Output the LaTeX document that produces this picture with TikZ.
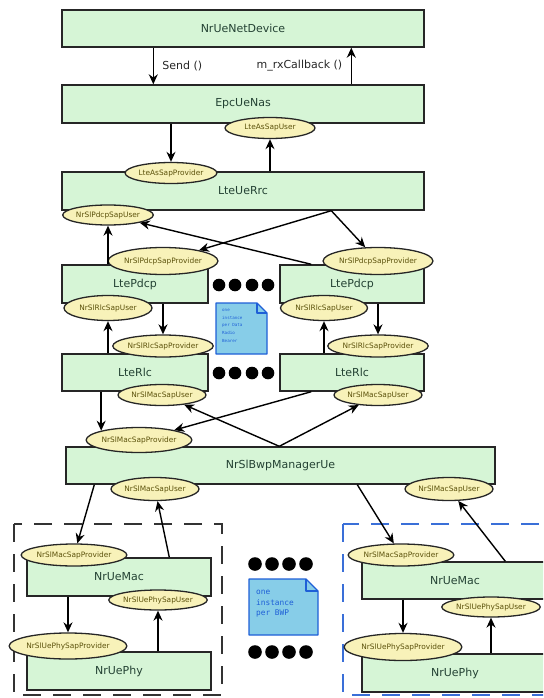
\documentclass[tikz,border=0pt]{standalone}
\usepackage{fontspec}
\setmainfont{DejaVu Sans}
\setmonofont{DejaVu Sans Mono}
\usetikzlibrary{shapes.geometric,arrows.meta}

\definecolor{boxfill}{RGB}{214,245,214}
\definecolor{boxtext}{RGB}{36,66,52}
\definecolor{sapfill}{RGB}{248,242,185}
\definecolor{saptext}{RGB}{92,82,12}
\definecolor{notefill}{RGB}{135,205,232}
\definecolor{noteblue}{RGB}{30,95,215}
\definecolor{bwpblue}{RGB}{58,111,216}

\tikzset{
  box/.style={draw=black!85,line width=1.4pt,fill=boxfill,text=boxtext,
    font=\fontsize{11}{13}\selectfont,inner sep=0pt},
  sap/.style={ellipse,draw=black!85,line width=1.3pt,fill=sapfill,text=saptext,
    font=\fontsize{7.4}{8}\selectfont,inner sep=0pt},
  arr/.style={line width=1.4pt,-{Stealth[length=10pt,width=9pt]}},
  notebox/.style={draw=noteblue,line width=1.3pt,fill=notefill,line join=round},
  group/.style={line width=1.5pt,dash pattern=on 18pt off 12pt},
}

\begin{document}
\begin{tikzpicture}[x=1pt,y=-1pt]
\useasboundingbox (0,0) rectangle (543,698);
\clip (0,0) rectangle (543,698);
  % Dashed groups for each BWP
  \draw[group,black!80] (14,524) rectangle (222,695);
  \draw[group,bwpblue] (343,524) rectangle (570,695);
  % Layer boxes
  \node[box,minimum width=362,minimum height=37] (dev) at (243,28.5) {NrUeNetDevice};
  \node[box,minimum width=362,minimum height=38] (nas) at (243,104) {EpcUeNas};
  \node[box,minimum width=362,minimum height=38] (rrc) at (243,191) {LteUeRrc};
  \node[box,minimum width=146,minimum height=38] (pdcpL) at (135,284) {LtePdcp};
  \node[box,minimum width=144,minimum height=38] (pdcpR) at (352,284) {LtePdcp};
  \node[box,minimum width=146,minimum height=37] (rlcL) at (135,372.5) {LteRlc};
  \node[box,minimum width=144,minimum height=37] (rlcR) at (352,372.5) {LteRlc};
  \node[box,minimum width=429,minimum height=37] (bwp) at (280.5,465.5) {NrSlBwpManagerUe};
  \node[box,minimum width=184,minimum height=38] (macL) at (119,577) {NrUeMac};
  \node[box,minimum width=184,minimum height=38] (phyL) at (119,671) {NrUePhy};
  \node[box,minimum width=186,minimum height=37] (macR) at (455,580.5) {NrUeMac};
  \node[box,minimum width=186,minimum height=38] (phyR) at (455,673) {NrUePhy};
  % SAP ellipses
  \node[sap,minimum width=90,minimum height=21] (asu) at (270,128) {LteAsSapUser};
  \node[sap,minimum width=89,minimum height=21] (asp) at (171,173) {LteAsSapProvider};
  \node[sap,minimum width=88,minimum height=20] (pduL) at (108,215) {NrSlPdcpSapUser};
  \node[sap,minimum width=90,minimum height=27] (ppL) at (163,261) {NrSlPdcpSapProvider};
  \node[sap,minimum width=92,minimum height=27] (ppR) at (378,261) {NrSlPdcpSapProvider};
  \node[sap,minimum width=88,minimum height=25] (ruL) at (108,308) {NrSlRlcSapUser};
  \node[sap,minimum width=87,minimum height=25] (ruR) at (324,308) {NrSlRlcSapUser};
  \node[sap,minimum width=86,minimum height=22] (rpL) at (163,346) {NrSlRlcSapProvider};
  \node[sap,minimum width=88,minimum height=22] (rpR) at (378,346) {NrSlRlcSapProvider};
  \node[sap,minimum width=88,minimum height=21] (muL) at (162,395) {NrSlMacSapUser};
  \node[sap,minimum width=88,minimum height=21] (muR) at (378,395) {NrSlMacSapUser};
  \node[sap,minimum width=87,minimum height=25] (mp) at (139,440) {NrSlMacSapProvider};
  \node[sap,minimum width=88,minimum height=23] (bmuL) at (155,489) {NrSlMacSapUser};
  \node[sap,minimum width=88,minimum height=23] (bmuR) at (449,489) {NrSlMacSapUser};
  \node[sap,minimum width=90,minimum height=22] (mpL) at (74,555) {NrSlMacSapProvider};
  \node[sap,minimum width=88,minimum height=22] (mpR) at (401,555) {NrSlMacSapProvider};
  \node[sap,minimum width=90,minimum height=20] (puL) at (158,600) {NrSlUePhySapUser};
  \node[sap,minimum width=89,minimum height=20] (puR) at (491,607) {NrSlUePhySapUser};
  \node[sap,minimum width=99,minimum height=26] (ppyL) at (68,646) {NrSlUePhySapProvider};
  \node[sap,minimum width=95,minimum height=27] (ppyR) at (403,647) {NrSlUePhySapProvider};
  % Device <-> NAS
  \draw[arr] ([xshift=92pt]dev.south west) -- node[midway,right=5pt,text=black!85,font=\fontsize{11}{13}\selectfont] {Send ()} ([xshift=92pt]nas.north west);
  \draw[arr] ([xshift=290pt]nas.north west) -- node[midway,left=5pt,text=black!85,font=\fontsize{11}{13}\selectfont] {m\_rxCallback ()} ([xshift=290pt]dev.south west);
  % NAS <-> RRC
  \draw[arr] (asp |- nas.south) -- (asp.north);
  \draw[arr] (asu |- rrc.north) -- (asu.south);
  % RRC <-> PDCP
  \draw[arr] ([xshift=270pt]rrc.south west) -- (ppL);
  \draw[arr] ([xshift=270pt]rrc.south west) -- (ppR);
  \draw[arr] (pduL |- pdcpL.north) -- (pduL.south);
  \draw[arr] ([xshift=32pt]pdcpR.north west) -- (pduL);
  % PDCP <-> RLC
  \draw[arr] (rpL |- pdcpL.south) -- (rpL.north);
  \draw[arr] (rpR |- pdcpR.south) -- (rpR.north);
  \draw[arr] (ruL |- rlcL.north) -- (ruL.south);
  \draw[arr] (ruR |- rlcR.north) -- (ruR.south);
  % RLC <-> BWP manager
  \draw[arr] (rlcL.south -| mp.north west) -- (mp.north west);
  \draw[arr] ([xshift=32pt]rlcR.south west) -- (mp);
  \draw[arr] ([xshift=214pt]bwp.north west) -- (muL);
  \draw[arr] ([xshift=214pt]bwp.north west) -- (muR);
  % BWP manager <-> MAC
  \draw[arr] ([xshift=29pt]bwp.south west) -- (mpL);
  \draw[arr] ([xshift=143pt]macL.north west) -- (bmuL);
  \draw[arr] ([xshift=292pt]bwp.south west) -- (mpR);
  \draw[arr] ([xshift=144pt]macR.north west) -- (bmuR);
  % MAC <-> PHY
  \draw[arr] (ppyL |- macL.south) -- (ppyL.north);
  \draw[arr] (puL |- phyL.north) -- (puL.south);
  \draw[arr] (ppyR |- macR.south) -- (ppyR.north);
  \draw[arr] (puR |- phyR.north) -- (puR.south);
  % Dots between instances
  \foreach \x in {219,235,252,268} {
    \fill (\x,285) circle (6.3);
    \fill (\x,373) circle (6.3);
  }
  \foreach \x in {255,272,289,306} {
    \fill (\x,564) circle (6.8);
    \fill (\x,652) circle (6.8);
  }
  % Note: one per bearer
  \draw[notebox] (216,303) -- (257,303) -- (267,313) -- (267,354) -- (216,354) -- cycle;
  \draw[notebox,fill=none] (257,303) -- (257,313) -- (267,313);
  \node[anchor=north west,align=left,text=noteblue,inner sep=0pt,
    font=\ttfamily\fontsize{4.2}{7.7}\selectfont] (drbnote) at (222,309)
    {one\\instance\\per Data\\Radio\\Bearer};
  % Note: one per BWP
  \draw[notebox] (249,579) -- (306,579) -- (318,591) -- (318,635) -- (249,635) -- cycle;
  \draw[notebox,fill=none] (306,579) -- (306,591) -- (318,591);
  \node[anchor=north west,align=left,text=noteblue,inner sep=0pt,
    font=\ttfamily\fontsize{7.8}{10.5}\selectfont] (bwpnote) at (256,590)
    {one\\instance\\per BWP};
\end{tikzpicture}
\end{document}
